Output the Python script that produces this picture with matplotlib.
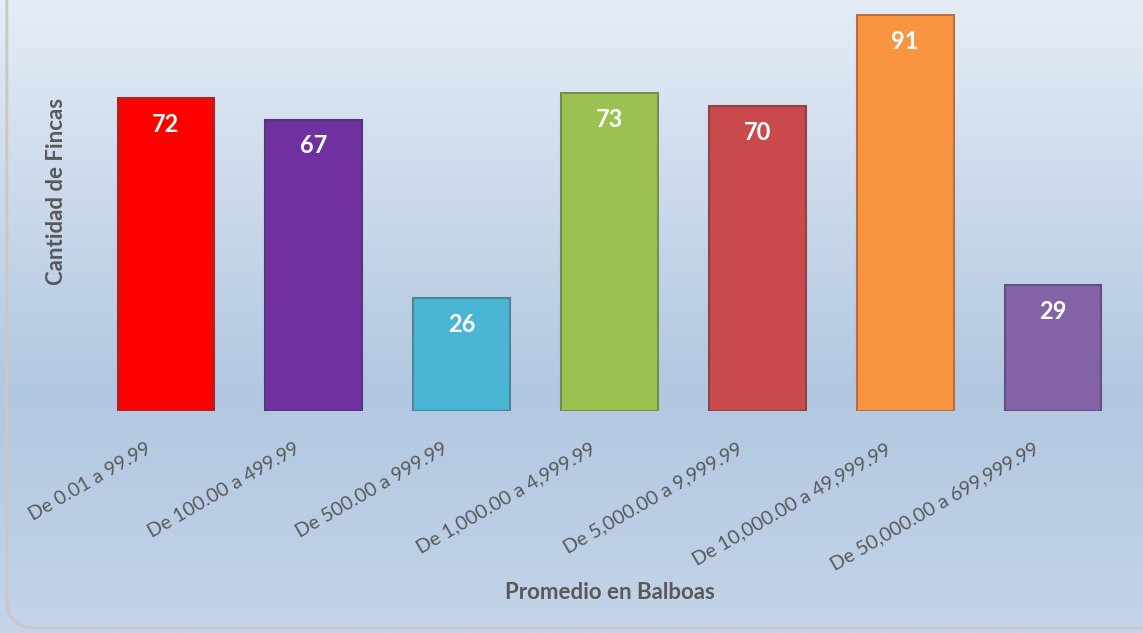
import numpy as np
import matplotlib.pyplot as plt
from matplotlib.patches import FancyBboxPatch
from matplotlib.colors import LinearSegmentedColormap
import matplotlib.transforms as mtransforms

categories = ['De 0.01 a 99.99', 'De 100.00 a 499.99', 'De 500.00 a 999.99',
              'De 1,000.00 a 4,999.99', 'De 5,000.00 a 9,999.99',
              'De 10,000.00 a 49,999.99', 'De 50,000.00 a 699,999.99']
fincas = [72, 67, 26, 73, 70, 91, 29]
colors = ['#fe0000', '#7030a0', '#4bb5d4', '#9bc250', '#c84a4c', '#f99541', '#8462a6']
edges = ['#a02828', '#55347a', '#4a8799', '#73904a', '#8f4244', '#b57040', '#64507e']

plt.rcParams['font.family'] = ['Lato', 'DejaVu Sans']

fig = plt.figure(figsize=(11.43, 6.33), dpi=100)

# background gradient
bg = fig.add_axes([0, 0, 1, 1], zorder=-2)
cmap = LinearSegmentedColormap.from_list('bg', [(0, '#e5ecf6'), (0.62, '#b2c7e1'), (1, '#c4d4e9')])
grad = np.linspace(0, 1, 256).reshape(-1, 1)
bg.imshow(grad, aspect='auto', cmap=cmap, extent=[0, 1, 0, 1], origin='upper')
bg.add_patch(FancyBboxPatch((0.006, 0.008), 1.1, 1.1, boxstyle='round,pad=0,rounding_size=0.025',
                            fc='none', ec='#c8c8c8', lw=2, transform=bg.transAxes, mutation_aspect=1.8))
bg.set_xlim(0, 1)
bg.set_ylim(0, 1)
bg.axis('off')

ax = fig.add_axes([0.0805, 0.3507, 0.9055, 0.6357])
ax.patch.set_alpha(0)
x = np.arange(len(categories))
bars = ax.bar(x, fincas, width=0.655, color=colors, edgecolor=edges, linewidth=1.5)

for xi, v in zip(x, fincas):
    ax.annotate(str(v), (xi, v), xytext=(0, -19), textcoords='offset points',
                ha='center', va='center', color='white', fontsize=17, fontweight='bold')

ax.set_xlim(-0.5, 6.5)
ax.set_ylim(0, 92.5)
ax.set_yticks([])
ax.set_xticks(x)
ax.set_xticklabels(categories, rotation=30, ha='right', va='top', rotation_mode='anchor',
                   fontsize=14, color='#595959')
ax.tick_params(axis='x', length=0, pad=21)
offset = mtransforms.ScaledTranslation(-20 / 100, 0, fig.dpi_scale_trans)
for lbl in ax.get_xticklabels():
    lbl.set_transform(lbl.get_transform() + offset)
for s in ax.spines.values():
    s.set_visible(False)

fig.text(0.534, 0.064, 'Promedio en Balboas', ha='center', va='center',
         fontsize=16, fontweight='bold', color='#595959')
fig.text(0.049, 0.697, 'Cantidad de Fincas', ha='center', va='center', rotation=90,
         fontsize=16, fontweight='bold', color='#595959')

fig.savefig('out.png', dpi=100)
